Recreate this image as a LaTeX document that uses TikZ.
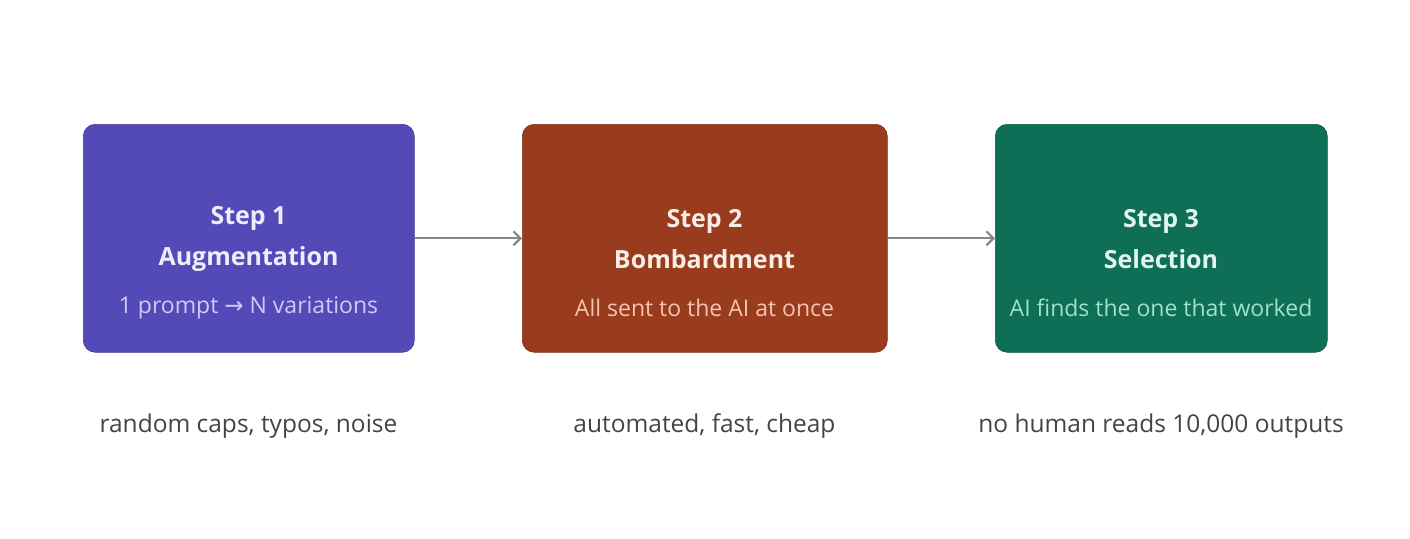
\documentclass[tikz,border=0pt]{standalone}
\usepackage{fontspec}
\setmainfont{Open Sans}
\newfontfamily\symf{DejaVu Sans}
\usetikzlibrary{arrows.meta}
\definecolor{pa}{HTML}{534AB7}\definecolor{pat}{HTML}{EEEDFE}\definecolor{pas}{HTML}{CECBF6}
\definecolor{ob}{HTML}{993C1D}\definecolor{obt}{HTML}{FAECE7}\definecolor{obs}{HTML}{F5C4B3}
\definecolor{gr}{HTML}{0F6E56}\definecolor{grt}{HTML}{E1F5EE}\definecolor{grs}{HTML}{9FE1CB}
\definecolor{tx}{HTML}{444441}
\begin{document}
\begin{tikzpicture}[x=1pt,y=-1pt,
 box/.style={draw=#1!80!black,line width=0.6pt,fill=#1,rounded corners=12pt,anchor=north west},
 ttl/.style={font=\fontsize{25}{41}\selectfont\bfseries,align=center},
 sub/.style={font=\fontsize{23}{28}\selectfont},
 note/.style={font=\fontsize{24.5}{30}\selectfont,text=tx},
 arr/.style={draw=gray!95,line width=2.2pt,-{Straight Barb[length=7pt,width=14pt]}}]
\useasboundingbox (0,0) rectangle (1410,538);
\node[box=pa,minimum width=331pt,minimum height=228pt] (b1) at (83,124) {};
\node[box=ob,minimum width=365pt,minimum height=228pt] (b2) at (522,124) {};
\node[box=gr,minimum width=332pt,minimum height=228pt] (b3) at (995,124) {};
\node[ttl,text=pat] (t1) at (248.5,239) {Step 1\\Augmentation};
\node[ttl,text=obt] (t2) at (704.5,239) {Step 2\\Bombardment};
\node[ttl,text=grt] (t3) at (1161,239) {Step 3\\Selection};
\node[sub,text=pas] (s1) at (248.5,308) {1 prompt {\symf →} N variations};
\node[sub,text=obs] (s2) at (704.5,308) {All sent to the AI at once};
\node[sub,text=grs] (s3) at (1161,308) {AI finds the one that worked};
\node[note] (n1) at (248.5,426) {random caps, typos, noise};
\node[note] (n2) at (704.5,426) {automated, fast, cheap};
\node[note] (n3) at (1161,426) {no human reads 10,000 outputs};
\draw[arr] (b1.east) -- (b2.west);
\draw[arr] (b2.east) -- (b3.west);
\end{tikzpicture}
\end{document}
